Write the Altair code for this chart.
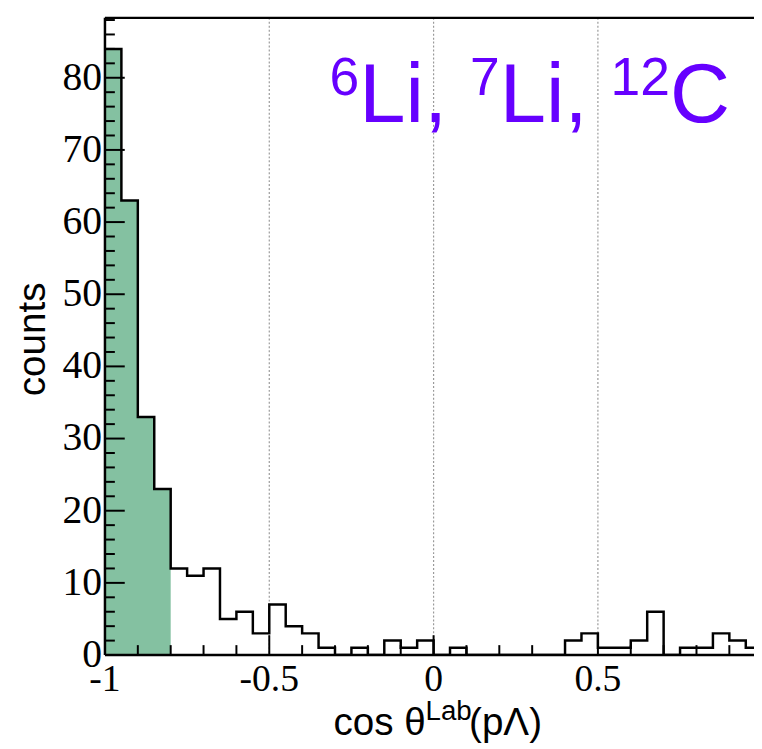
import altair as alt
import pandas as pd

# ---- data ----
bin_start = -1.0
bin_width = 0.05
counts = [84, 63, 33, 23, 12, 11, 12, 5, 6, 3, 7, 4, 3, 1,
          0, 1, 0, 2, 1, 2,
          0, 1, 0, 0, 0, 0, 0, 0,
          2, 3, 1, 1, 2, 6, 0, 1, 1, 3, 2, 1]
shaded_bins = 4  # bins from -1 to -0.8 are filled

x_label_values = [-1, -0.5, 0, 0.5]
y_label_values = [0, 10, 20, 30, 40, 50, 60, 70, 80]
x_major_ticks = [-1, -0.5, 0, 0.5]
x_minor_ticks = [-0.9, -0.8, -0.7, -0.6, -0.4, -0.3, -0.2, -0.1,
                 0.1, 0.2, 0.3, 0.4, 0.6, 0.7, 0.8, 0.9]
y_major_ticks = [10, 20, 30, 40, 50, 60, 70, 80]
y_minor_ticks = [v for v in range(2, 89, 2) if v % 10 != 0]
grid_values = [-0.5, 0, 0.5]

X_DOMAIN = [-1, 0.975]
Y_DOMAIN = [0, 88.3]
W, H = 656, 644

edges = [round(bin_start + i * bin_width, 4) for i in range(len(counts))]
step = pd.DataFrame({"x": edges + [round(edges[-1] + bin_width, 4)],
                     "count": counts + [counts[-1]]})
shade = pd.DataFrame({"x": edges[:shaded_bins] + [round(edges[shaded_bins], 4)],
                      "count": counts[:shaded_bins] + [counts[shaded_bins - 1]]})

xs = alt.Scale(domain=X_DOMAIN, nice=False, zero=False)
ys = alt.Scale(domain=Y_DOMAIN, nice=False, zero=True)

GREEN = "#84C1A1"
PURPLE = "#6600FF"
SANS = "Liberation Sans"
SERIF = "Liberation Serif"

one = pd.DataFrame({"_": [0]})

fill = alt.Chart(shade).mark_area(
    interpolate="step-after", color=GREEN, opacity=1, clip=True
).encode(
    x=alt.X("x:Q", scale=xs, axis=None),
    y=alt.Y("count:Q", scale=ys, axis=None),
    y2=alt.datum(0),
)

grid = alt.Chart(pd.DataFrame({"g": grid_values})).mark_rule(
    color="#9a9a9a", strokeDash=[2, 2], strokeWidth=1.2
).encode(
    x=alt.X("g:Q", scale=xs, axis=None),
    y=alt.value(0), y2=alt.value(H),
)

outline = alt.Chart(step).mark_line(
    interpolate="step-after", color="black", strokeWidth=2.5, clip=True
).encode(
    x=alt.X("x:Q", scale=xs, axis=None),
    y=alt.Y("count:Q", scale=ys, axis=None),
)

xmaj = alt.Chart(pd.DataFrame({"t": x_major_ticks})).mark_rule(
    color="black", strokeWidth=2).encode(
    x=alt.X("t:Q", scale=xs, axis=None), y=alt.value(H), y2=alt.value(H - 20))
xmin = alt.Chart(pd.DataFrame({"t": x_minor_ticks})).mark_rule(
    color="black", strokeWidth=2).encode(
    x=alt.X("t:Q", scale=xs, axis=None), y=alt.value(H), y2=alt.value(H - 10))
ymaj = alt.Chart(pd.DataFrame({"t": y_major_ticks})).mark_rule(
    color="black", strokeWidth=2).encode(
    y=alt.Y("t:Q", scale=ys, axis=None), x=alt.value(0), x2=alt.value(20))
ymin = alt.Chart(pd.DataFrame({"t": y_minor_ticks})).mark_rule(
    color="black", strokeWidth=2).encode(
    y=alt.Y("t:Q", scale=ys, axis=None), x=alt.value(0), x2=alt.value(10))

xlab = alt.Chart(pd.DataFrame({"v": x_label_values})).transform_calculate(
    lab="toString(datum.v)"
).mark_text(font=SERIF, fontSize=38, color="black", align="center",
            baseline="top").encode(
    x=alt.X("v:Q", scale=xs, axis=None), y=alt.value(H + 6), text="lab:N")
ylab = alt.Chart(pd.DataFrame({"v": y_label_values})).transform_calculate(
    lab="toString(datum.v)"
).mark_text(font=SERIF, fontSize=40, color="black", align="right",
            baseline="middle").encode(
    y=alt.Y("v:Q", scale=ys, axis=None), x=alt.value(-3), text="lab:N")

frame_left = alt.Chart(one).mark_rule(color="black", strokeWidth=2.5).encode(
    x=alt.value(0), y=alt.value(0), y2=alt.value(H))
frame_bottom = alt.Chart(one).mark_rule(color="black", strokeWidth=2.5).encode(
    x=alt.value(0), x2=alt.value(W), y=alt.value(H))
frame_top = alt.Chart(one).mark_rule(color="black", strokeWidth=2.5).encode(
    x=alt.value(0), x2=alt.value(W), y=alt.value(0))


def txt(s, x, y, size, color="black", font=SANS, angle=0, align="left"):
    return alt.Chart(one).mark_text(
        text=s, font=font, fontSize=size, color=color, align=align,
        baseline="alphabetic", angle=angle
    ).encode(x=alt.value(x), y=alt.value(y))


# label "6Li, 7Li, 12C"
title_parts = [
    txt("6", 227, 78, 54, PURPLE),
    txt("Li,", 257, 105, 84, PURPLE),
    txt("7", 369, 78, 54, PURPLE),
    txt("Li,", 399, 105, 84, PURPLE),
    txt("12", 511, 78, 54, PURPLE),
    txt("C", 571, 105, 84, PURPLE),
]

# x axis title "cos θ^Lab(pΛ)"
xtitle = [
    txt("cos θ", 231, 725, 39),
    txt("Lab", 324, 710, 28),
    txt("(pΛ)", 368, 725, 39),
]

ytitle = txt("counts", -61, 325, 39, angle=270, align="center")

chart = alt.layer(
    fill, grid, outline, xmaj, xmin, ymaj, ymin, xlab, ylab,
    frame_left, frame_bottom, frame_top,
    *title_parts, *xtitle, ytitle
).properties(
    width=W, height=H,
    autosize=alt.AutoSizeParams(type="none"),
    padding={"left": 98, "top": 6, "right": 0, "bottom": 91},
    background="white",
).configure_view(stroke=None)

chart.save("out.html", embed_options={"renderer": "svg", "actions": False})
